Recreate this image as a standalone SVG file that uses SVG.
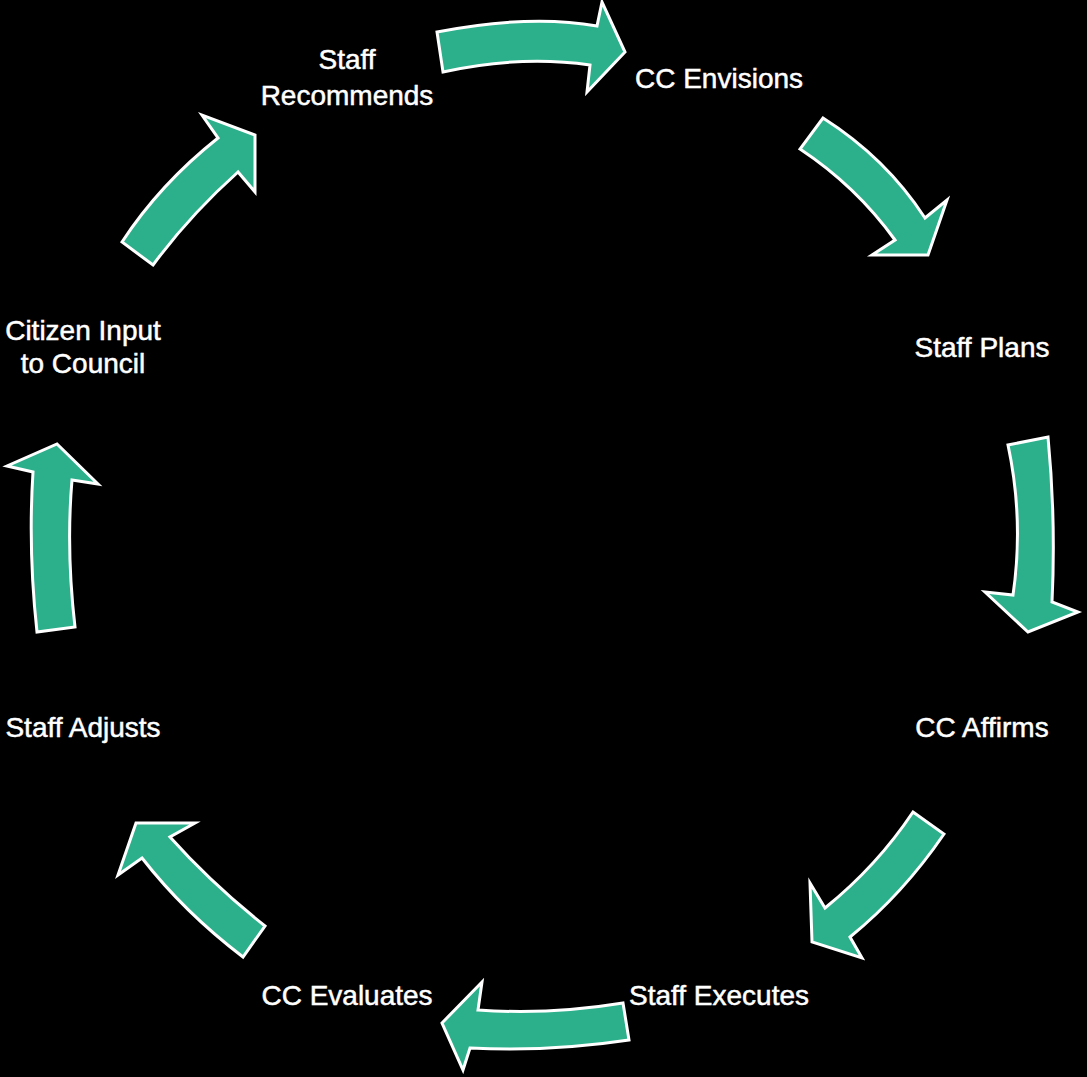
<svg xmlns="http://www.w3.org/2000/svg" width="1087" height="1077" viewBox="0 0 1087 1077">
<style>
.lbl{font-family:"Liberation Sans",Arial,sans-serif;font-size:28px;fill:#ffffff;text-anchor:middle;stroke:#ffffff;stroke-width:0.5}
.arr{fill:#2CB08C;stroke:#ffffff;stroke-width:3;stroke-linejoin:miter}
</style>
<rect x="0" y="0" width="1087" height="1077" fill="#000000"/>
<g id="connectors">
<path class="arr" d="M437,32 Q530,14 597,26 L602,2 L625,52 L587,92 L590,65 Q520,55 443,72 Z"/>
<path class="arr" d="M823,118 Q886,158 925,218 L947,200 L928,255 L872,255 L895,240 Q856,186 800,149 Z"/>
<path class="arr" d="M1048,437 Q1056,520 1052,602 L1078,612 L1028,632 L985,592 L1013,595 Q1024,520 1008,445 Z"/>
<path class="arr" d="M913,812 L944,834 Q903,894 850,937 L862,958 L812,942 L810,883 L825,908 Q877,866 913,812 Z"/>
<path class="arr" d="M623,1003 L629,1040 Q550,1052 470,1048 L463,1070 L442,1023 L482,982 L478,1010 Q550,1015 623,1003 Z"/>
<path class="arr" d="M243,957 Q184,912 142,858 L118,875 L136,823 L195,823 L170,837 Q212,884 265,926 Z"/>
<path class="arr" d="M37,632 Q28,550 33,472 L7,466 L57,444 L98,484 L72,480 Q66,550 75,627 Z"/>
<path class="arr" d="M122,242 Q160,184 218,138 L202,115 L255,135 L255,192 L238,172 Q190,215 153,265 Z"/>
</g>
<g id="staff-recommends"><text class="lbl" x="347" y="69">Staff</text><text class="lbl" x="347" y="105">Recommends</text></g>
<g id="cc-envisions"><text class="lbl" x="719" y="88">CC Envisions</text></g>
<g id="staff-plans"><text class="lbl" x="982" y="357">Staff Plans</text></g>
<g id="cc-affirms"><text class="lbl" x="982" y="737">CC Affirms</text></g>
<g id="staff-executes"><text class="lbl" x="719" y="1005">Staff Executes</text></g>
<g id="cc-evaluates"><text class="lbl" x="347" y="1005">CC Evaluates</text></g>
<g id="staff-adjusts"><text class="lbl" x="83" y="737">Staff Adjusts</text></g>
<g id="citizen-input"><text class="lbl" x="83" y="340">Citizen Input</text><text class="lbl" x="83" y="373">to Council</text></g>
</svg>
